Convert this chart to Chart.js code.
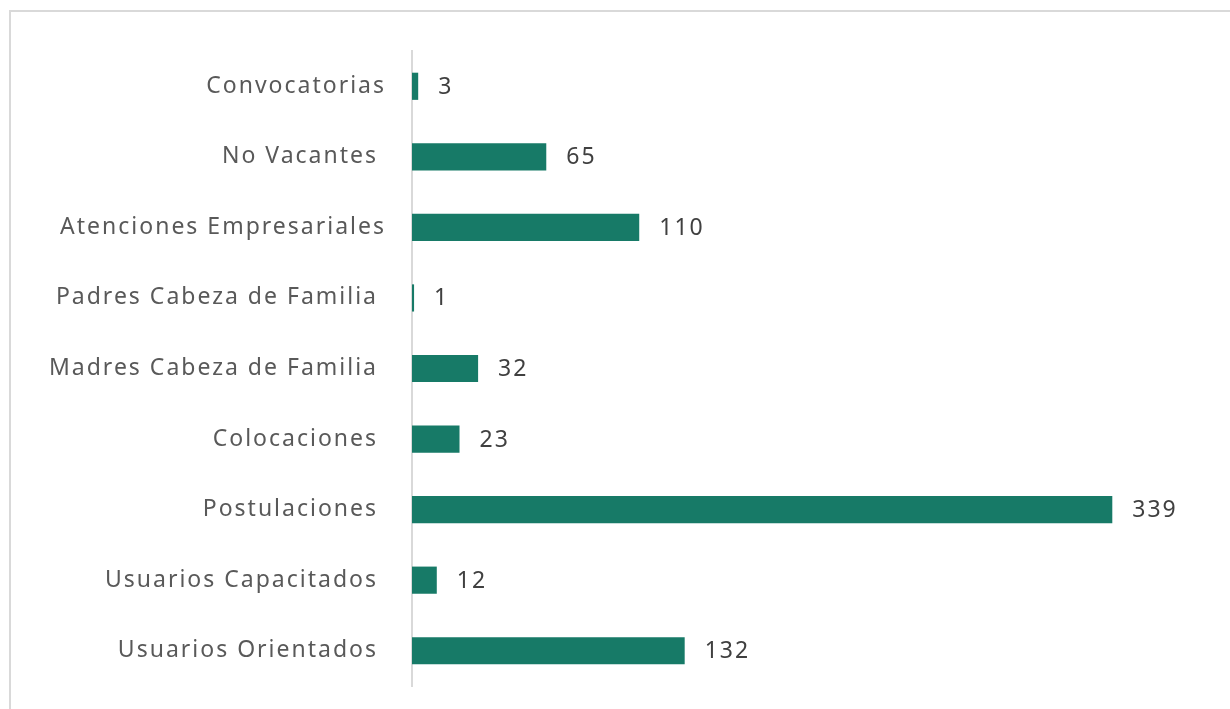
<!DOCTYPE html>
<html>
<head>
<meta charset="utf-8">
<script src="https://cdn.jsdelivr.net/npm/chart.js@4"></script>
<style>
    html, body { margin: 0; padding: 0; background: #fff; overflow: hidden; }
    #wrap { position: relative; width: 1230px; height: 709px; }
    #frame { position: absolute; left: 9px; top: 10px; width: 1240px; height: 720px; border: 2px solid #d9d9d9; box-sizing: border-box; }
    canvas { position: absolute; left: 0; top: 0; }
</style>
</head>
<body>
<div id="wrap">
    <div id="frame"></div>
    <canvas id="chart" width="1230" height="709"></canvas>
</div>
<script>
const categories = [
    'Convocatorias',
    'No Vacantes ',
    'Atenciones Empresariales',
    'Padres Cabeza de Familia ',
    'Madres Cabeza de Familia ',
    'Colocaciones ',
    'Postulaciones ',
    'Usuarios Capacitados ',
    'Usuarios Orientados '
];
const values = [3, 65, 110, 1, 32, 23, 339, 12, 132];
const xMax = 380;

const barColor = '#177a67';
const labelFont = { family: 'Noto Sans', size: 23 };

// Letter spacing to mimic the wide Excel text rendering
const spacingPlugin = {
    id: 'spacing',
    beforeInit(chart) { chart.ctx.letterSpacing = '2px'; },
    beforeDraw(chart) { chart.ctx.letterSpacing = '2px'; }
};

// Value labels just past the end of each bar
const valueLabels = {
    id: 'valueLabels',
    afterDatasetsDraw(chart) {
        const ctx = chart.ctx;
        const meta = chart.getDatasetMeta(0);
        ctx.save();
        ctx.letterSpacing = '2px';
        ctx.font = labelFont.size + 'px ' + labelFont.family;
        ctx.fillStyle = '#404040';
        ctx.textAlign = 'left';
        ctx.textBaseline = 'middle';
        meta.data.forEach((bar, i) => {
            ctx.fillText(String(values[i]), bar.x + 20, bar.y + 1);
        });
        ctx.restore();
    }
};

new Chart(document.getElementById('chart'), {
    type: 'bar',
    data: {
        labels: categories,
        datasets: [{
            data: values,
            backgroundColor: barColor,
            borderWidth: 0,
            barPercentage: 0.385,
            categoryPercentage: 1
        }]
    },
    options: {
        indexAxis: 'y',
        responsive: false,
        animation: false,
        devicePixelRatio: 1,
        layout: { padding: { left: 0, top: 51, right: 33, bottom: 23 } },
        plugins: {
            legend: { display: false },
            tooltip: { enabled: false },
            title: { display: false }
        },
        scales: {
            x: {
                display: false,
                min: 0,
                max: xMax
            },
            y: {
                grid: { display: false },
                border: { display: true, color: '#d9d9d9', width: 2 },
                ticks: {
                    color: '#595959',
                    font: labelFont,
                    padding: 18
                },
                afterFit(scale) {
                    scale.width = 412;
                    scale.paddingTop = 0;
                    scale.paddingBottom = 0;
                }
            }
        }
    },
    plugins: [spacingPlugin, valueLabels]
});
</script>
</body>
</html>
